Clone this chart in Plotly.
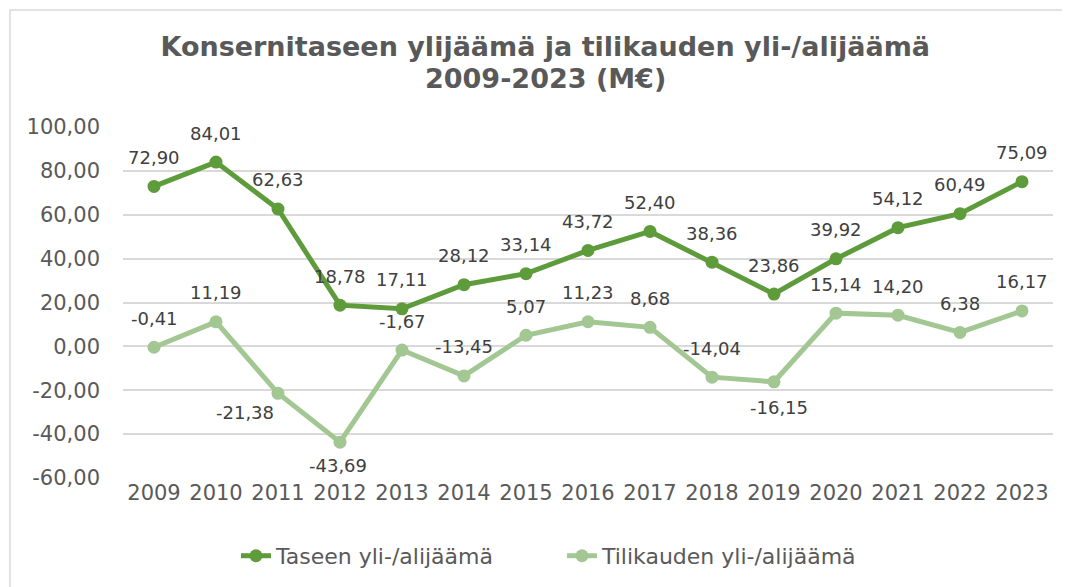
import plotly.graph_objects as go

years = [str(y) for y in range(2009, 2024)]
taseen = [72.90, 84.01, 62.63, 18.78, 17.11, 28.12, 33.14, 43.72, 52.40, 38.36, 23.86, 39.92, 54.12, 60.49, 75.09]
tilikauden = [-0.41, 11.19, -21.38, -43.69, -1.67, -13.45, 5.07, 11.23, 8.68, -14.04, -16.15, 15.14, 14.20, 6.38, 16.17]
y_ticks = [-60, -40, -20, 0, 20, 40, 60, 80, 100]
title_line1 = "Konsernitaseen ylijäämä ja tilikauden yli-/alijäämä"
title_line2 = "2009-2023 (M€)"

DARK = "#5D9B3B"
LIGHT = "#A2C793"
FONT = "DejaVu Sans"

def fmt(v):
    return f"{v:.2f}".replace(".", ",")

fig = go.Figure()
fig.add_trace(go.Scatter(x=years, y=taseen, mode="lines+markers", name="Taseen yli-/alijäämä",
                         line=dict(color=DARK, width=5), marker=dict(size=13, color=DARK)))
fig.add_trace(go.Scatter(x=years, y=tilikauden, mode="lines+markers", name="Tilikauden yli-/alijäämä",
                         line=dict(color=LIGHT, width=5), marker=dict(size=13, color=LIGHT)))

annotations = []
for i, v in enumerate(taseen):
    annotations.append(dict(x=i, y=v, xref="x", yref="y", text=fmt(v), showarrow=False,
                            yshift=29, font=dict(family=FONT, size=18, color="#404040")))
below = {"2011": (-33, -19), "2012": (-2, -23), "2019": (5, -26)}
for i, (x, v) in enumerate(zip(years, tilikauden)):
    xs, ys = below.get(x, (0, 29))
    annotations.append(dict(x=i, y=v, xref="x", yref="y", text=fmt(v), showarrow=False,
                            xshift=xs, yshift=ys, font=dict(family=FONT, size=18, color="#404040")))
# second title line
annotations.append(dict(x=0.454, y=(478 - 78) / 351, xref="paper", yref="paper", xanchor="center",
                        yanchor="middle", showarrow=False, text=title_line2,
                        font=dict(family=FONT, size=27, color="#595959", weight="bold")))

H = 579
fig.update_layout(
    width=1062, height=H,
    margin=dict(l=115, r=17, t=119, b=H - 470, autoexpand=False),
    paper_bgcolor="white", plot_bgcolor="white",
    font=dict(family=FONT, color="#595959"),
    title=dict(text=title_line1,
               x=0.454, xref="paper", xanchor="center", y=1 - 39 / H, yanchor="middle",
               font=dict(family=FONT, size=27, color="#595959", weight="bold")),
    showlegend=True,
    legend=dict(orientation="h", x=0.472, xanchor="center", y=-0.222, yanchor="middle",
                font=dict(family=FONT, size=22, color="#595959"),
                entrywidth=281, entrywidthmode="pixels"),
    annotations=annotations,
    shapes=[dict(type="rect", xref="paper", yref="paper", x0=-0.1215, x1=1.06, y0=-0.4, y1=1.3333,
                 line=dict(color="#D9D9D9", width=1.5), fillcolor="rgba(0,0,0,0)", layer="below")],
)
fig.update_xaxes(type="category", range=[-0.5, 14.5], showgrid=False, showline=False, zeroline=False,
                 ticks="", tickfont=dict(family=FONT, size=21, color="#595959"))
fig.update_yaxes(range=[-60, 100], tickvals=y_ticks, ticktext=[fmt(v) for v in y_ticks],
                 showgrid=True, gridcolor="#D9D9D9", gridwidth=1.5, zeroline=True, zerolinecolor="#D9D9D9",
                 zerolinewidth=1.5, showline=False, ticks="", ticklabelstandoff=22,
                 tickfont=dict(family=FONT, size=21, color="#595959"))

fig.write_html("out.html")
